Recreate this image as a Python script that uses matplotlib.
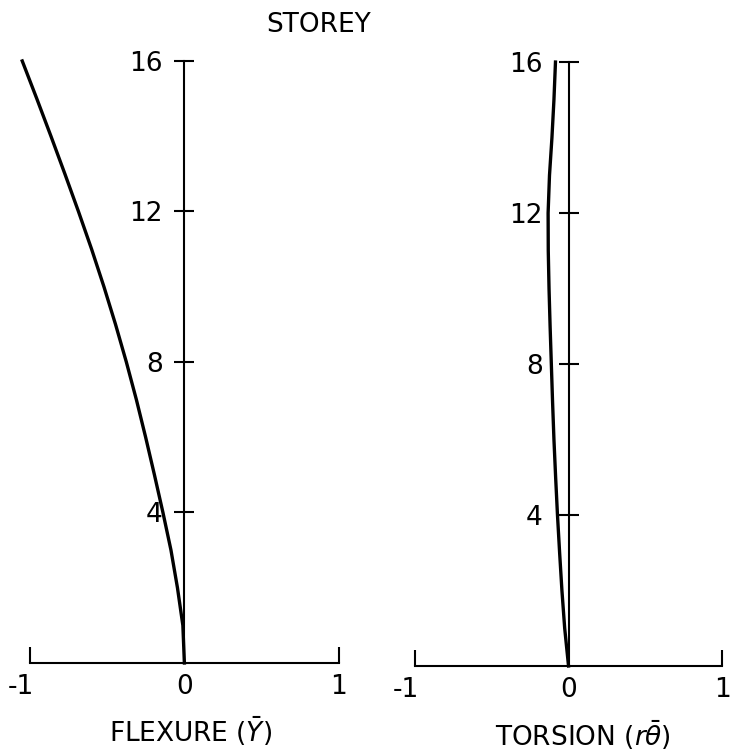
import matplotlib
matplotlib.use("Agg")
import matplotlib.pyplot as plt
from matplotlib.transforms import ScaledTranslation

# storey levels and deflection profiles
storeys = [0, 1, 2, 3, 4, 5, 6, 7, 8, 9, 10, 11, 12, 13, 14, 15, 16]
flexure = [0, -0.01, -0.045, -0.087, -0.139, -0.194, -0.251, -0.311, -0.376,
           -0.446, -0.521, -0.601, -0.686, -0.774, -0.864, -0.956, -1.05]
torsion = [0, -0.025, -0.043, -0.058, -0.072, -0.084, -0.095, -0.104, -0.112,
           -0.12, -0.127, -0.132, -0.133, -0.124, -0.108, -0.095, -0.085]

y_ticks = [4, 8, 12, 16]
x_ticks = [-1, 0, 1]
x_ticklabels = ['-1', '0', '1']

plt.rcParams['font.family'] = ['DejaVu Sans']
plt.rcParams['mathtext.fontset'] = 'dejavusans'
FS = 19

fig = plt.figure(figsize=(7.3, 7.56), dpi=100)
ax1 = fig.add_axes([0.0093, 0.1081, 0.4866, 0.8262])
ax2 = fig.add_axes([0.537, 0.1041, 0.4836, 0.8288])


def style(ax, label, lx, ly, ypad):
	ax.set_xlim(-1.15, 1.15)
	ax.set_ylim(-0.3, 16.3)
	for s in ['top', 'right']:
		ax.spines[s].set_visible(False)
	ax.spines['left'].set_position(('data', 0))
	ax.spines['bottom'].set_position(('data', 0))
	ax.spines['left'].set_bounds(0, 16)
	ax.spines['bottom'].set_bounds(-1, 1)
	for s in ['left', 'bottom']:
		ax.spines[s].set_linewidth(1.5)
	ax.set_yticks(y_ticks)
	ax.set_yticklabels([str(t) for t in y_ticks], fontsize=FS)
	ax.set_xticks(x_ticks)
	ax.set_xticklabels(x_ticklabels, fontsize=FS)
	ax.tick_params(axis='y', direction='inout', length=15, width=1.5, pad=ypad)
	ax.tick_params(axis='x', direction='in', length=11.5, width=1.5, pad=8)
	ax.xaxis.get_major_ticks()[1].tick1line.set_visible(False)
	# the "-1" sits a little left of its end mark
	lab = ax.xaxis.get_major_ticks()[0].label1
	lab.set_transform(lab.get_transform() + ScaledTranslation(-0.09, 0, fig.dpi_scale_trans))
	ax.set_xlabel(label, fontsize=FS)
	ax.xaxis.set_label_coords(lx, ly)
	ax.xaxis.label.set_va('center')
	ax.patch.set_visible(False)


ax1.plot(flexure, storeys, color='black', linewidth=2.4, clip_on=False)
style(ax1, r'FLEXURE ($\bar{Y}$)', 0.516, -0.092, 8)

ax2.plot(torsion, storeys, color='black', linewidth=2.4, clip_on=False)
style(ax2, r'TORSION ($r\bar{\theta}$)', 0.541, -0.092, 11)

fig.text(0.436, 0.967, 'STOREY', fontsize=FS, ha='center', va='center')

plt.savefig('out.png', dpi=100)
